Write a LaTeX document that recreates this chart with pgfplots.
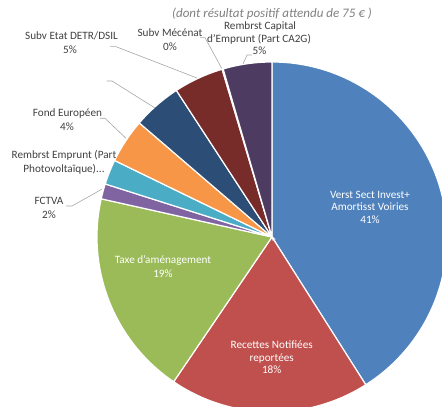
\documentclass[border=0pt]{standalone}
\usepackage{pgfplots}
\pgfplotsset{compat=1.18}
\usepackage{fontspec}
\setmainfont{Carlito}

\definecolor{cBlue}{HTML}{4F81BD}
\definecolor{cRed}{HTML}{C0504D}
\definecolor{cGreen}{HTML}{9BBB59}
\definecolor{cPurple}{HTML}{8064A2}
\definecolor{cAqua}{HTML}{4BACC6}
\definecolor{cOrange}{HTML}{F79646}
\definecolor{cDkBlue}{HTML}{2C4D75}
\definecolor{cDkRed}{HTML}{772C2A}
\definecolor{cDkGreen}{HTML}{5F7530}
\definecolor{cDkPurple}{HTML}{4D3B62}
\definecolor{txt}{HTML}{404040}
\definecolor{lead}{HTML}{A6A6A6}

% one wedge: colour, cumulative percent at start, at end (clockwise from the top)
\newcommand\slice[3]{%
  \addplot[fill=#1, draw=white, line width=1.2pt] coordinates {(272,170)}
    -- ++({90-3.6*#2}:175pt) arc[start angle={90-3.6*#2}, end angle={90-3.6*#3}, radius=175pt] -- cycle;}
% one line of a label, centred on x, baseline at y (pixels from the top)
\newcommand\lbl[4][txt]{\node[anchor=base, inner sep=0pt, text=#1,
  font=\fontsize{11.2pt}{13pt}\selectfont] at (axis cs:#2,{407-#3}) {#4};}

\begin{document}
\begin{tikzpicture}
\begin{axis}[x=1pt, y=1pt, xmin=0, xmax=442, ymin=0, ymax=407,
  hide axis, at={(0,0)}, anchor=south west]

% percentages: 41, 18.5, 19, 1.4, 2.3, 4.1, 4.5, 4.6, 0.1, 4.5
\slice{cBlue}{0}{41}
\slice{cRed}{41}{59.5}
\slice{cGreen}{59.5}{78.5}
\slice{cPurple}{78.5}{79.9}
\slice{cAqua}{79.9}{82.2}
\slice{cOrange}{82.2}{86.3}
\slice{cDkBlue}{86.3}{90.8}
\slice{cDkRed}{90.8}{95.4}
\slice{cDkGreen}{95.4}{95.5}
\slice{cDkPurple}{95.5}{100}

% leader lines
\begin{scope}[draw=lead, line width=0.6pt]
\draw (axis cs:252,352) -- (axis cs:247,352) -- (axis cs:243,343);
\draw (axis cs:200,369.3) -- (axis cs:205,369.3) -- (axis cs:221.7,338.7);
\draw (axis cs:110,360.3) -- (axis cs:116,360.3) -- (axis cs:197,329);
\draw (axis cs:106.7,326) -- (axis cs:112,326) -- (axis cs:155,299);
\draw (axis cs:100,288.7) -- (axis cs:105,288.7) -- (axis cs:126,268.7);
\draw (axis cs:66,201) -- (axis cs:72,201) -- (axis cs:101.7,217.7);
\end{scope}

% title
\node[anchor=base, inner sep=0pt, text=gray, font=\fontsize{13pt}{15pt}\selectfont\itshape]
  at (axis cs:272,{407-17.5}) {(dont résultat positif attendu de 75 € )};

% outside labels
\lbl{260}{29.3}{Rembrst Capital}
\lbl{259}{42.6}{d'Emprunt (Part CA2G)}
\lbl{259.5}{54.5}{5\%}
\lbl{170}{37}{Subv Mécénat}
\lbl{170}{50.5}{0\%}
\lbl{71.5}{40}{Subv Etat DETR/DSIL}
\lbl{70}{53.5}{5\%}
\lbl{67.5}{116.5}{Fond Européen}
\lbl{67}{131}{4\%}
\lbl{64}{159}{Rembrst Emprunt (Part}
\lbl{64}{172.5}{Photovoltaïque)...}
\lbl{49}{205}{FCTVA}
\lbl{49}{218.5}{2\%}

% inside labels
\lbl[white]{370}{198.5}{Verst Sect Invest+}
\lbl[white]{370}{211}{Amortisst Voiries}
\lbl[white]{370}{223.5}{41\%}
\lbl[white]{163}{263.5}{Taxe d'aménagement}
\lbl[white]{163}{277.5}{19\%}
\lbl[white]{271.7}{349}{Recettes Notifiées}
\lbl[white]{271.7}{362}{reportées}
\lbl[white]{271.7}{374}{18\%}
\end{axis}
\pgfresetboundingbox
\useasboundingbox (0,0) rectangle (442pt,407pt);
\end{tikzpicture}
\end{document}
